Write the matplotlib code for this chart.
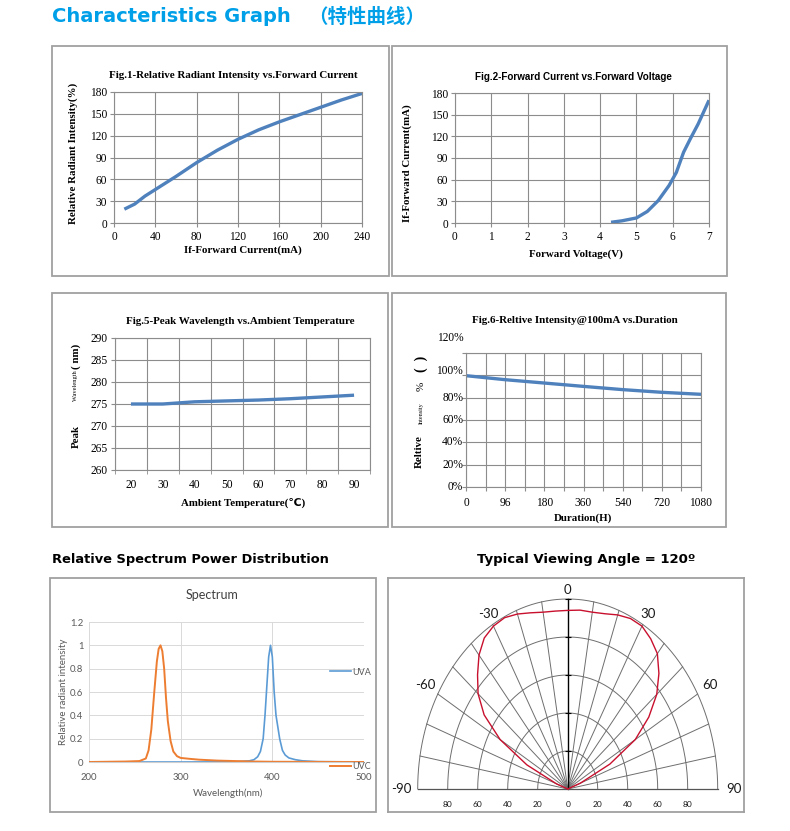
import numpy as np
import matplotlib
matplotlib.use("Agg")
import matplotlib.pyplot as plt
from matplotlib.patches import Rectangle

W, H = 790, 831

# ---- data ----
# Fig.1 relative radiant intensity vs forward current
f1_current = [10, 20, 30, 40, 60, 80, 100, 120, 140, 160, 180, 200, 220, 240]
f1_intensity = [19, 26, 37, 46, 64, 83, 100, 115, 128, 139, 149, 159, 169, 178]

# Fig.2 forward current vs forward voltage
f2_voltage = [4.3, 4.6, 5.0, 5.3, 5.6, 5.9, 6.1, 6.3, 6.5, 6.7, 7.0]
f2_current = [1, 3, 7, 16, 31, 52, 70, 98, 118, 137, 170]

# Fig.5 peak wavelength vs ambient temperature
f5_temp = ["20", "30", "40", "50", "60", "70", "80", "90"]
f5_peak = [275.0, 275.0, 275.5, 275.7, 275.9, 276.2, 276.6, 277.0]

# Fig.6 relative intensity vs duration (category axis, every other label)
f6_hours = ["0", "96", "180", "360", "540", "720", "1080"]
f6_intensity = [99.7, 96.1, 93.1, 90.1, 87.2, 84.8, 83.0]
f6_ylabels = ["0%", "20%", "40%", "60%", "80%", "100%", "120%"]

# spectrum
uvc_wl = [200, 240, 255, 262, 265, 268, 271, 274, 276, 278, 280, 282, 284, 286,
          289, 292, 296, 300, 310, 320, 340, 360, 380, 400, 450, 500]
uvc_val = [0, 0.004, 0.008, 0.03, 0.1, 0.28, 0.58, 0.86, 0.97, 1.0, 0.95, 0.8,
           0.55, 0.35, 0.18, 0.09, 0.05, 0.035, 0.027, 0.02, 0.012, 0.008,
           0.004, 0.002, 0.001, 0]
uva_wl = [200, 300, 360, 375, 380, 384, 387, 390, 392, 394, 396, 398, 400, 402,
          404, 406, 408, 411, 414, 418, 425, 433, 450, 500]
uva_val = [0, 0, 0.002, 0.01, 0.02, 0.045, 0.09, 0.2, 0.4, 0.65, 0.9, 1.0, 0.9,
           0.6, 0.4, 0.3, 0.2, 0.1, 0.06, 0.035, 0.02, 0.01, 0.003, 0]

# viewing angle (deg) and relative intensity
va_angle = [-90, -85, -80, -75, -70, -65, -60, -55, -50, -45, -40, -35, -30, -25,
            -20, -15, -10, -5, 0, 5, 10, 15, 20, 25, 30, 35, 40, 45, 50, 55, 60,
            65, 70, 75, 80, 85, 90]
va_r = [0, 0, 0, 0, 8, 30, 52, 68, 78, 85, 92, 97, 99, 99.5, 98, 96, 94.5, 94,
        94, 94.5, 94.5, 95.5, 97.5, 99, 99, 96.5, 93, 86, 77.5, 66, 52, 31, 9,
        0, 0, 0, 0]

BLUE = "#4f81bd"
GRID = "#8c8c8c"
SERIF = "Liberation Serif"

fig = plt.figure(figsize=(W / 100, H / 100), dpi=100)


def px_axes(x0, y0, x1, y1):
    return fig.add_axes([x0 / W, 1 - y1 / H, (x1 - x0) / W, (y1 - y0) / H])


def box(x0, y0, x1, y1):
    fig.add_artist(Rectangle((x0 / W, 1 - y1 / H), (x1 - x0) / W, (y1 - y0) / H,
                             transform=fig.transFigure, fill=False,
                             ec="#a0a0a0", lw=1.3))


def ftext(x, y, s, **kw):
    fig.text(x / W, 1 - y / H, s, **kw)


def style_fig(ax):
    for sp in ax.spines.values():
        sp.set_color(GRID)
        sp.set_linewidth(0.8)
    ax.grid(True, color=GRID, lw=0.8)
    ax.set_axisbelow(True)
    ax.tick_params(direction="out", length=3, width=0.8, color=GRID,
                   labelsize=8.3, pad=2)
    ax.tick_params(axis="x", pad=2.5)
    for lab in ax.get_xticklabels() + ax.get_yticklabels():
        lab.set_fontfamily(SERIF)


# ---- header ----
ftext(52, 17, "Characteristics Graph", color="#00a0e9", fontsize=14,
      fontweight="bold", family="DejaVu Sans", va="center")
ftext(308, 17, "（特性曲线）", color="#00a0e9", fontsize=14,
      fontweight="bold", family="Noto Sans CJK SC", va="center")

# ---- boxes ----
box(52, 46, 389, 276)
box(392, 46, 727, 276)
box(52, 293, 388, 527)
box(392, 293, 726, 527)

# ---- Fig.1 ----
ax1 = px_axes(114, 92, 362, 223)
ax1.plot(f1_current, f1_intensity, color=BLUE, lw=2.4, solid_capstyle="butt")
ax1.set_xlim(0, 240)
ax1.set_ylim(0, 180)
ax1.set_xticks(range(0, 241, 40))
ax1.set_yticks(range(0, 181, 30))
style_fig(ax1)
ftext(233, 76, "Fig.1-Relative Radiant Intensity vs.Forward Current",
      family=SERIF, fontweight="bold", fontsize=7.9, ha="center", va="center")
ftext(243, 250, "If-Forward Current(mA)", family=SERIF, fontweight="bold",
      fontsize=7.8, ha="center", va="center")
ftext(73, 153, "Relative Radiant Intensity(%)", family=SERIF, fontweight="bold",
      fontsize=7.8, ha="center", va="center", rotation=90)

# ---- Fig.2 ----
ax2 = px_axes(455, 93, 709, 223)
ax2.plot(f2_voltage, f2_current, color=BLUE, lw=2.4, solid_capstyle="butt")
ax2.set_xlim(0, 7)
ax2.set_ylim(0, 180)
ax2.set_xticks(range(0, 8))
ax2.set_yticks(range(0, 181, 30))
style_fig(ax2)
ftext(573, 77, "Fig.2-Forward Current vs.Forward Voltage",
      family="Liberation Sans", fontweight="bold", fontsize=7.1, ha="center",
      va="center")
ftext(576, 254, "Forward Voltage(V)", family=SERIF, fontweight="bold",
      fontsize=7.8, ha="center", va="center")
ftext(407, 163, "If-Forward Current(mA)", family=SERIF, fontweight="bold",
      fontsize=7.8, ha="center", va="center", rotation=90)

# ---- Fig.5 ----
ax5 = px_axes(115, 338, 370, 470)
x5 = np.arange(len(f5_temp))
ax5.plot(x5, f5_peak, color=BLUE, lw=2.4, solid_capstyle="butt")
ax5.set_xlim(-0.5, len(f5_temp) - 0.5)
ax5.set_ylim(260, 290)
ax5.set_yticks(range(260, 291, 5))
ax5.set_xticks(x5)
ax5.set_xticklabels(f5_temp)
ax5.set_xticks(np.arange(-0.5, len(f5_temp)), minor=True)
style_fig(ax5)
ax5.grid(False, axis="x", which="major")
ax5.grid(True, axis="x", which="minor", color=GRID, lw=0.8)
ax5.tick_params(axis="x", which="major", length=0, pad=6.5)
ax5.tick_params(axis="x", which="minor", length=3, color=GRID)
ftext(240, 322, "Fig.5-Peak Wavelength vs.Ambient Temperature", family=SERIF,
      fontweight="bold", fontsize=7.95, ha="center", va="center")
ftext(243, 503, "Ambient Temperature(℃)", family=[SERIF, "DejaVu Sans"],
      fontweight="bold", fontsize=7.8, ha="center", va="center")
ftext(76, 437, "Peak", family=SERIF, fontweight="bold", fontsize=7.8,
      ha="center", va="center", rotation=90)
ftext(76, 386, "Wavelength", family=SERIF, fontsize=4.6, ha="center",
      va="center", rotation=90)
ftext(76, 356, "( nm)", family=SERIF, fontweight="bold", fontsize=7.8,
      ha="center", va="center", rotation=90)

# ---- Fig.6 ----
ax6 = px_axes(466, 353, 701, 487)
n6 = 2 * (len(f6_hours) - 1)
x6 = np.arange(0, n6 + 1, 2)
ax6.plot(x6, f6_intensity, color=BLUE, lw=2.4, solid_capstyle="butt")
ax6.set_xlim(0, n6)
ax6.set_ylim(0, 120)
ax6.set_xticks(np.arange(n6 + 1))
ax6.set_xticklabels([f6_hours[i // 2] if i % 2 == 0 else "" for i in range(n6 + 1)])
ax6.set_yticks(range(0, 121, 20))
ax6.set_yticklabels([])
style_fig(ax6)
ax6.tick_params(axis="x", pad=4)
# the source places the two upper percent labels higher than their gridlines
f6_label_pos = [0, 20, 40, 60, 80, 103.5, 133]
for lab, yv in zip(f6_ylabels, f6_label_pos):
    ax6.text(-0.012, yv, lab, transform=ax6.get_yaxis_transform(), ha="right",
             va="center", family=SERIF, fontsize=8.3, clip_on=False)
ftext(575, 321, "Fig.6-Reltive Intensity@100mA vs.Duration", family=SERIF,
      fontweight="bold", fontsize=7.9, ha="center", va="center")
ftext(583, 518, "Duration(H)", family=SERIF, fontweight="bold", fontsize=7.8,
      ha="center", va="center")
ftext(419, 452, "Reltive", family=SERIF, fontweight="bold", fontsize=7.8,
      ha="center", va="center", rotation=90)
ftext(421, 413, "Intensity", family=SERIF, fontsize=4.4, ha="center",
      va="center", rotation=90)
ftext(421, 386, "%", family=SERIF, fontsize=8, ha="center", va="center",
      rotation=90)
ftext(421, 364, "(  )", family=SERIF, fontweight="bold", fontsize=10,
      ha="center", va="center", rotation=90)

# ---- sub headings ----
ftext(52, 560, "Relative Spectrum Power Distribution", family="DejaVu Sans",
      fontweight="bold", fontsize=9.35, va="center")
ftext(477, 560, "Typical Viewing Angle = 120º", family="DejaVu Sans",
      fontweight="bold", fontsize=9.5, va="center")

# ---- spectrum ----
box(50, 578, 376, 812)
SANS = "Lato"
axs = px_axes(89, 622, 364, 762)
l_uva, = axs.plot(uva_wl, uva_val, color="#5b9bd5", lw=1.2)
l_uvc, = axs.plot(uvc_wl, uvc_val, color="#ed7d31", lw=1.4)
axs.set_xlim(200, 500)
axs.set_ylim(0, 1.2)
axs.set_xticks([200, 300, 400, 500])
axs.set_yticks(np.arange(0, 1.21, 0.2))
axs.set_yticklabels(["0", "0.2", "0.4", "0.6", "0.8", "1", "1.2"])
axs.grid(True, color="#d9d9d9", lw=0.7)
axs.set_axisbelow(True)
for k, sp in axs.spines.items():
    sp.set_visible(False)
axs.spines["bottom"].set_visible(True)
axs.spines["bottom"].set_color("#cfcfcf")
axs.tick_params(length=0, labelsize=6.8, labelcolor="#595959")
axs.tick_params(axis="y", pad=4)
axs.tick_params(axis="x", pad=8)
for lab in axs.get_xticklabels() + axs.get_yticklabels():
    lab.set_fontfamily(SANS)
leg1 = axs.legend([l_uva], ["UVA"], loc="center left", bbox_to_anchor=(0.876, 0.642),
                  frameon=False, borderpad=0, borderaxespad=0, handlelength=2.3,
                  handletextpad=0.2, prop={"family": SANS, "size": 6.5})
axs.add_artist(leg1)
axs.legend([l_uvc], ["UVC"], loc="center left", bbox_to_anchor=(0.876, -0.031),
           frameon=False, borderpad=0, borderaxespad=0, handlelength=2.3,
           handletextpad=0.2, prop={"family": SANS, "size": 6.5})
for lg in [leg1, axs.get_legend()]:
    for t in lg.get_texts():
        t.set_color("#595959")
ftext(212, 595, "Spectrum", family=SANS, fontsize=9, ha="center",
      va="center", color="#404040")
ftext(228, 793, "Wavelength(nm)", family=SANS, fontsize=7, ha="center",
      va="center", color="#595959")
ftext(64, 692, "Relative radiant intensity", family=SANS, fontsize=7,
      ha="center", va="center", rotation=90, color="#595959")

# ---- viewing angle (stretched half polar) ----
axp = px_axes(388, 578, 744, 812)
cx, cy = 567.7, 789
sx, sy = 1.5, 1.9  # px per unit
axp.set_xlim((388 - cx) / sx, (744 - cx) / sx)
axp.set_ylim((cy - 812) / sy, (cy - 578) / sy)
axp.set_xticks([])
axp.set_yticks([])
for sp in axp.spines.values():
    sp.set_color("#a0a0a0")
    sp.set_linewidth(1.3)
t = np.radians(np.linspace(-90, 90, 181))
for r in range(20, 101, 20):
    axp.plot(r * np.sin(t), r * np.cos(t), color="#6e6e6e", lw=0.7)
for a in range(-90, 91, 10):
    ar = np.radians(a)
    axp.plot([0, 100 * np.sin(ar)], [0, 100 * np.cos(ar)], color="#6e6e6e", lw=0.7)
axp.plot([0, 0], [0, 100], color="black", lw=1.0)
axp.plot([-100, 100], [0, 0], color="#555555", lw=0.9)
axp.plot(np.zeros(5), range(20, 101, 20), ls="none", marker="_", ms=4,
         color="black", mew=0.8)
va_t = np.radians(va_angle)
va_rr = np.array(va_r)
axp.plot(va_rr * np.sin(va_t), va_rr * np.cos(va_t), color="#c8102e", lw=1.0)
for a in [-90, -60, -30, 0, 30, 60, 90]:
    ar = np.radians(a)
    rl = 105 + 6 * np.sin(ar) ** 2
    axp.text(rl * np.sin(ar), rl * np.cos(ar), str(a), ha="center",
             va="center", family=SANS, fontsize=9.5, color="#1a1a1a")
for v in range(-80, 81, 20):
    axp.text(v, -8.4, str(abs(v)), ha="center", va="center", family=SANS,
             fontsize=6, color="#1a1a1a")

fig.savefig("out.png", dpi=100)
